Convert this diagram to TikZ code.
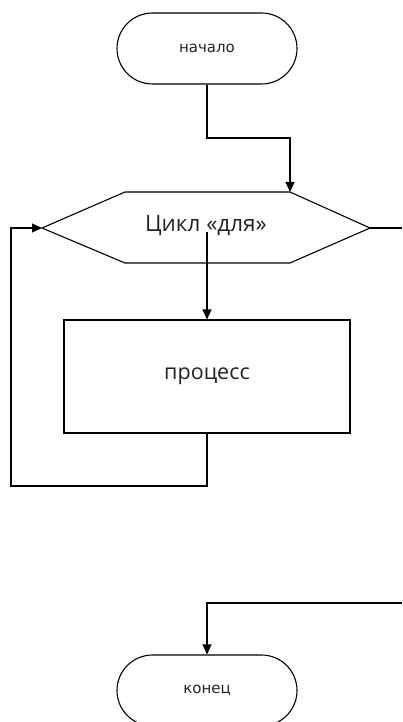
\documentclass[tikz,border=0pt]{standalone}
\usepackage{fontspec}
\setmainfont{Open Sans}
\newfontfamily\smallfont{DejaVu Sans}
\usetikzlibrary{arrows.meta}
\definecolor{txt}{HTML}{222222}
\begin{document}
\begin{tikzpicture}[x=1pt,y=-1pt,
  line width=1.1pt,
  arr/.style={-{Triangle[length=10pt,width=9pt]}},
  terminal/.style={draw,rectangle,rounded corners=35.5pt,minimum width=180pt,minimum height=71pt,inner sep=0pt,text=txt,font=\smallfont\fontsize{15}{17}\selectfont},
  procbox/.style={draw,rectangle,minimum width=286pt,minimum height=113pt,inner sep=0pt,text=txt,font=\fontsize{21.5}{24}\selectfont},
  looptext/.style={inner sep=0pt,text=txt,font=\fontsize{22.5}{25}\selectfont}]
\useasboundingbox (0,0) rectangle (402,722);
\clip (0,0) rectangle (402,722);
% start
\node[terminal] (start) at (207,48.5) {начало};
% loop hexagon
\coordinate (hl) at (42,228);
\coordinate (htl) at (125,192);
\coordinate (htr) at (290,192);
\coordinate (hr) at (370,228);
\coordinate (hbr) at (290,263);
\coordinate (hbl) at (125,263);
\draw (hl) -- (htl) -- (htr) -- (hr) -- (hbr) -- (hbl) -- cycle;
\node[looptext] (loop) at (206,226) {Цикл «для»};
\coordinate (loopc) at (207,232);
% process
\node[procbox] (proc) at (207,376.5) {процесс};
% end
\node[terminal] (end) at (207,690.5) {конец};
% connectors
\coordinate (exitr) at (402,228);
\coordinate (exitb) at (402,603);
\draw[arr] (start.south) -- (207,138) -| (htr);
\draw[arr] (loopc) -- (proc.north);
\draw[arr] (proc.south) -- (207,486) -- (11,486) -- (11,228) -- (hl);
\draw (hr) -- (exitr);
\draw[arr] (exitb) -| (end.north);
\end{tikzpicture}
\end{document}
